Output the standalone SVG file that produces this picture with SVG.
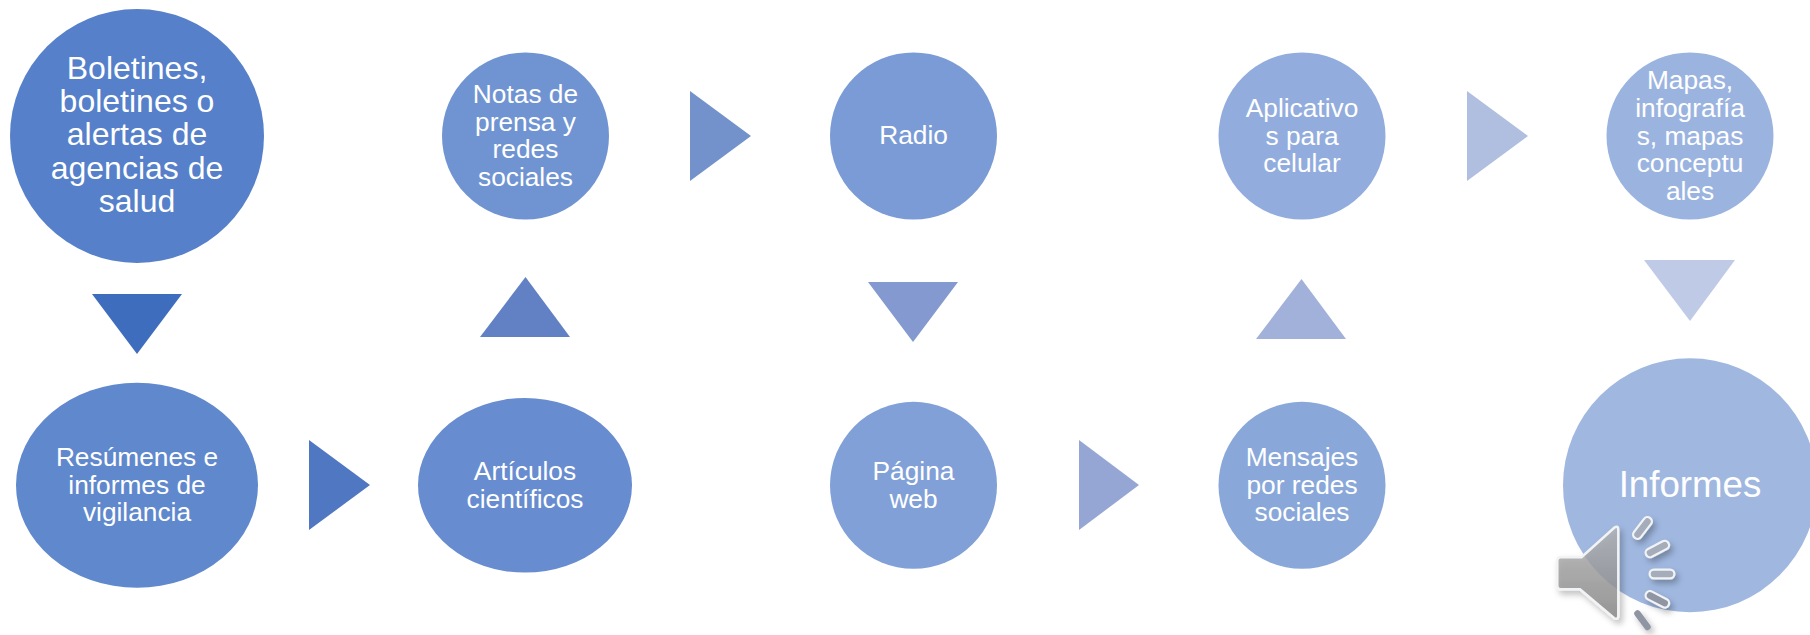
<svg xmlns="http://www.w3.org/2000/svg" width="1810" height="635" viewBox="0 0 1810 635">
<style>
text{font-family:"Liberation Sans",Arial,sans-serif;fill:#fff;text-anchor:middle}
.m{font-size:26.3px}
.l{font-size:32px}
.x{font-size:36.7px}
.wave-o{stroke:#f2f3f5;stroke-width:11;stroke-linecap:round;fill:none}
.wave-i{stroke-width:6.5;stroke-linecap:round;fill:none}
</style>
<defs>
<linearGradient id="spk" x1="0" y1="0" x2="0" y2="1"><stop offset="0" stop-color="#b4b4b4"/><stop offset="1" stop-color="#858585"/></linearGradient>
<filter id="sh" x="-30%" y="-30%" width="170%" height="170%"><feDropShadow dx="3" dy="4" stdDeviation="3" flood-color="#000" flood-opacity=".28"/></filter>
</defs>
<rect width="1810" height="635" fill="#fff"/>
<g id="connectors">
<polygon points="92,294 182,294 137,354" fill="#3f6dbe"/>
<polygon points="309,440 370,485 309,530" fill="#4f77c2"/>
<polygon points="480,337 570,337 525.5,277" fill="#6281c5"/>
<polygon points="690,91 751,136 690,181" fill="#7391cb"/>
<polygon points="868,282 958,282 913,342" fill="#8399cf"/>
<polygon points="1079,440 1139,485 1079,530" fill="#95a6d5"/>
<polygon points="1256,339 1346,339 1301.5,279" fill="#a2b1da"/>
<polygon points="1467,91 1528,136 1467,181" fill="#b0bee0"/>
<polygon points="1644,260 1735,260 1690,321" fill="#bfcae6"/>
</g>
<g id="n-boletines"><circle cx="137" cy="136" r="127" fill="#5680ca"/>
<text class="l" x="137" y="78.5">Boletines,</text><text class="l" x="137" y="112">boletines o</text><text class="l" x="137" y="145">alertas de</text><text class="l" x="137" y="178.5">agencias de</text><text class="l" x="137" y="212">salud</text></g>
<g id="n-resumenes"><ellipse cx="137" cy="485.3" rx="121" ry="102.5" fill="#5f88cd"/>
<text class="m" x="137" y="465.5">Resúmenes e</text><text class="m" x="137" y="493.5">informes de</text><text class="m" x="137" y="521">vigilancia</text></g>
<g id="n-articulos"><ellipse cx="525" cy="485.3" rx="107" ry="87.3" fill="#678ccf"/>
<text class="m" x="525" y="480">Artículos</text><text class="m" x="525" y="507.7">científicos</text></g>
<g id="n-notas"><circle cx="525.5" cy="136" r="83.5" fill="#7094d2"/>
<text class="m" x="525.5" y="103">Notas de</text><text class="m" x="525.5" y="130.5">prensa y</text><text class="m" x="525.5" y="158">redes</text><text class="m" x="525.5" y="185.5">sociales</text></g>
<g id="n-radio"><circle cx="913.5" cy="136" r="83.5" fill="#7b9bd6"/>
<text class="m" x="913.5" y="144">Radio</text></g>
<g id="n-pagina"><circle cx="913.5" cy="485.3" r="83.5" fill="#80a0d7"/>
<text class="m" x="913.5" y="480">Página</text><text class="m" x="913.5" y="507.6">web</text></g>
<g id="n-mensajes"><circle cx="1302" cy="485.3" r="83.5" fill="#89a8d9"/>
<text class="m" x="1302" y="465.7">Mensajes</text><text class="m" x="1302" y="493.5">por redes</text><text class="m" x="1302" y="521">sociales</text></g>
<g id="n-aplicativos"><circle cx="1302" cy="136" r="83.5" fill="#92addd"/>
<text class="m" x="1302" y="117">Aplicativo</text><text class="m" x="1302" y="144.5">s para</text><text class="m" x="1302" y="172">celular</text></g>
<g id="n-mapas"><circle cx="1690" cy="136" r="83.5" fill="#9bb4df"/>
<text class="m" x="1690" y="89">Mapas,</text><text class="m" x="1690" y="117">infografía</text><text class="m" x="1690" y="144.5">s, mapas</text><text class="m" x="1690" y="172">conceptu</text><text class="m" x="1690" y="199.7">ales</text></g>
<g id="n-informes"><circle cx="1690" cy="485.3" r="127" fill="#a0b8e0"/>
<text class="x" x="1690" y="497">Informes</text></g>
<g id="speaker" filter="url(#sh)">
<path d="M1560.5 557.3H1581.5L1614.5 527.5Q1618.3 525 1618.3 530V615Q1618.3 620.5 1614 618L1580 589.3H1560.5Q1557.3 589.3 1557.3 586V560.5Q1557.3 557.3 1560.5 557.3Z" fill="url(#spk)" fill-opacity=".8" stroke="#f2f3f5" stroke-width="2.5"/>
<path class="wave-o" d="M1637.5 534.5L1647.5 521.5M1650 552.8L1664.7 545.2M1654 574H1670M1650 595.5L1664.7 603.2"/>
<path class="wave-i" stroke="#a6adba" d="M1637.5 534.5L1647.5 521.5M1650 552.8L1664.7 545.2M1654 574H1670"/>
<path class="wave-i" stroke="#8f95a3" d="M1650 595.5L1664.7 603.2M1637.5 613.5L1647.5 627"/>
</g>
</svg>
